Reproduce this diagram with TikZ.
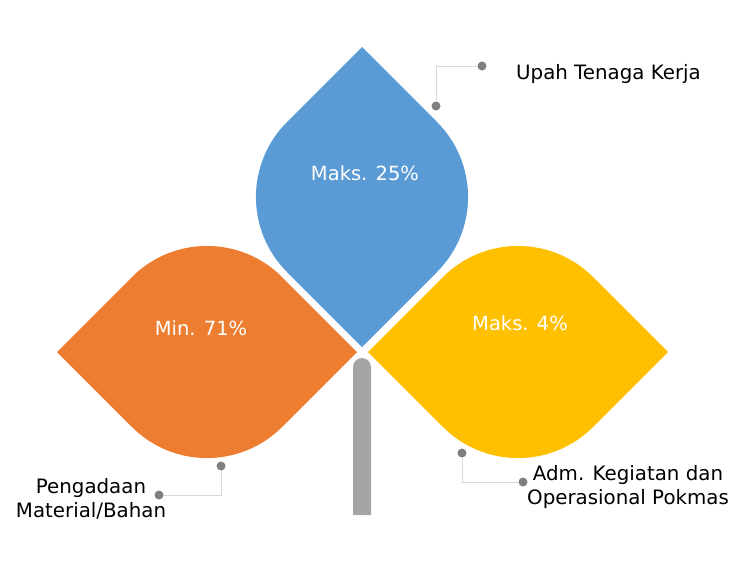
\documentclass[tikz,border=0pt]{standalone}
\usepackage{fontspec}
\setmainfont{DejaVu Sans}
\definecolor{lblue}{HTML}{5B9BD5}
\definecolor{lorange}{HTML}{ED7D31}
\definecolor{lyellow}{HTML}{FFC000}
\definecolor{lstem}{HTML}{A5A5A5}
\definecolor{ldot}{HTML}{7F7F7F}
\definecolor{lline}{HTML}{D9D9D9}
\newcommand{\leafpath}{(0,-150) -- (-75,-75) arc[start angle=225, end angle=135, radius=106.07] -- (0,150) -- (75,75) arc[start angle=45, end angle=-45, radius=106.07] -- cycle}
\begin{document}
\begin{tikzpicture}[x=1pt,y=-1pt,
  leaftext/.style={text=white, font=\fontsize{19.5}{23}\selectfont},
  lbl/.style={text=black, font=\fontsize{19.8}{24.5}\selectfont, align=center, inner sep=0pt},
  dot/.style={circle, fill=ldot, inner sep=0pt, minimum size=9pt},
  conn/.style={draw=lline, line width=1pt}]
\useasboundingbox (0,0) rectangle (746,574);
% stem
\fill[lstem] (353,515) -- (353,367) arc[start angle=180, end angle=360, radius=9] -- (371,515) -- cycle;
% leaves
\begin{scope}[shift={(362,197)}]
  \fill[lblue] \leafpath;
\end{scope}
\begin{scope}[shift={(207,352)}, rotate=90]
  \fill[lorange] \leafpath;
\end{scope}
\begin{scope}[shift={(518,352)}, rotate=90]
  \fill[lyellow] \leafpath;
\end{scope}
\node[leaftext] (tb) at (365,173) {Maks. 25\%};
\node[leaftext] (to) at (201,328) {Min. 71\%};
\node[leaftext] (ty) at (520,323) {Maks. 4\%};
% connectors
\node[dot] (u1) at (482,66) {};
\node[dot] (u2) at (436,106) {};
\draw[conn] (u1) -| (u2);
\node[dot] (p1) at (221,466) {};
\node[dot] (p2) at (159,495) {};
\draw[conn] (p1) |- (p2);
\node[dot] (a1) at (462,453) {};
\node[dot] (a2) at (523,482) {};
\draw[conn] (a1) |- (a2);
% labels
\node[lbl, anchor=west] (lu) at (516,74) {Upah Tenaga Kerja};
\node[lbl] (lp) at (91,499) {Pengadaan\\Material/Bahan};
\node[lbl] (la) at (628,487) {Adm. Kegiatan dan\\Operasional Pokmas};
\end{tikzpicture}
\end{document}
